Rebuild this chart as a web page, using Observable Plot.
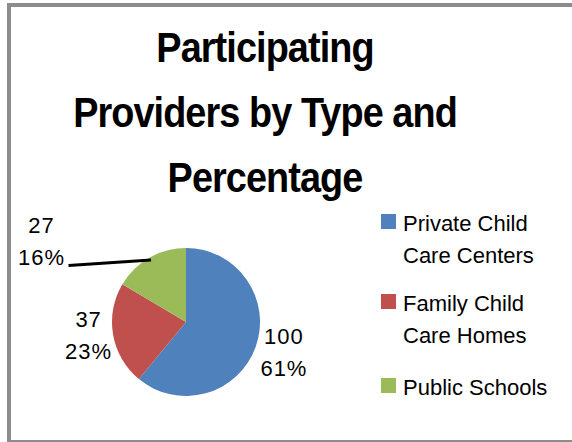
<!DOCTYPE html>
<html><head><meta charset="utf-8">
<script src="https://cdn.jsdelivr.net/npm/d3@7"></script>
<script src="https://cdn.jsdelivr.net/npm/@observablehq/plot@0.6"></script>
<style>
html,body{margin:0;padding:0;background:#fff;width:572px;height:442px;overflow:hidden;font-family:"Liberation Sans",Arial,sans-serif;}
#frame{position:absolute;left:7px;top:3px;width:600px;height:433px;border-left:4px solid #8c8c8c;border-top:4px solid #8c8c8c;border-bottom:2px solid #8c8c8c;}
#title{position:absolute;left:0;top:15px;width:530px;text-align:center;font-weight:bold;font-size:42px;line-height:65px;letter-spacing:-1px;color:#000;transform:scaleX(0.9);transform-origin:265px 0;}
#chart{position:absolute;left:0;top:200px;}
#legend{position:absolute;left:381px;top:208px;display:flex;flex-direction:column;gap:16px;}
.item{position:relative;padding-left:22px;font-size:22px;line-height:32px;color:#000;}
.item:last-child{margin-top:4px;}
.sw{position:absolute;left:0;top:6px;width:15px;height:15px;}
</style></head>
<body>
<div id="frame"></div>
<div id="title"></div>
<div id="chart"></div>
<div id="legend"></div>
<script>
const titleLines = ["Participating", "Providers by Type and", "Percentage"];
const categories = ["Private Child Care Centers", "Family Child Care Homes", "Public Schools"];
const legendLines = [["Private Child", "Care Centers"], ["Family Child", "Care Homes"], ["Public Schools"]];
const counts = [100, 37, 27];
const percents = ["61%", "23%", "16%"];
const colors = ["#4F81BD", "#C0504D", "#9BBB59"];

document.getElementById("title").innerHTML = titleLines.map(t => `<div>${t}</div>`).join("");

const arcs = d3.pie().sort(null).value(d => d)(counts);
const total = d3.sum(counts);
const labels = arcs.map((a, i) => {
  const mid = (a.startAngle + a.endAngle) / 2;
  const ux = Math.sin(mid), uy = Math.cos(mid);
  const small = counts[i] / total < 0.2;
  return small
    ? {i, small, x1: ux * 0.97, y1: uy * 0.97, x: ux - 1.10, y: uy - 0.10, count: String(counts[i]), pct: percents[i]}
    : {i, small, x: 1.37 * ux, y: 1.37 * uy + 0.05, count: String(counts[i]), pct: percents[i]};
});
const inside = labels.filter(d => !d.small);
const outside = labels.filter(d => d.small);

const pieMark = (index, scales) => {
  const cx = scales.x(0), cy = scales.y(0);
  const r = scales.x(1) - cx;
  const arc = d3.arc().innerRadius(0).outerRadius(r);
  const g = d3.create("svg:g").attr("transform", `translate(${cx},${cy})`);
  g.selectAll("path").data(arcs).join("path")
    .attr("d", arc)
    .attr("fill", (d, i) => colors[i]);
  return g.node();
};

const plot = Plot.plot({
  width: 340,
  height: 240,
  marginLeft: 112,
  marginRight: 80,
  marginTop: 48,
  marginBottom: 44,
  x: {domain: [-1, 1], axis: null},
  y: {domain: [-1, 1], axis: null},
  style: {fontFamily: "'Liberation Sans', Arial, sans-serif", fontSize: "22px", letterSpacing: "1px", background: "transparent", overflow: "visible"},
  marks: [
    pieMark,
    Plot.link(outside, {x1: "x1", y1: "y1", x2: "x", y2: "y", stroke: "#000", strokeWidth: 3}),
    Plot.text(inside, {x: "x", y: "y", text: "count", dx: 2, dy: -16, fontSize: 22, fill: "#000"}),
    Plot.text(inside, {x: "x", y: "y", text: "pct", dx: 2, dy: 16, fontSize: 22, fill: "#000"}),
    Plot.text(outside, {x: "x", y: "y", text: "count", dx: -27, dy: -40, fontSize: 22, fill: "#000"}),
    Plot.text(outside, {x: "x", y: "y", text: "pct", dx: -27, dy: -8, fontSize: 22, fill: "#000"})
  ]
});
document.getElementById("chart").appendChild(plot);

document.getElementById("legend").innerHTML = categories.map((c, i) =>
  `<div class="item" title="${c}"><span class="sw" style="background:${colors[i]}"></span>${legendLines[i].join("<br>")}</div>`
).join("");
</script>
</body></html>
